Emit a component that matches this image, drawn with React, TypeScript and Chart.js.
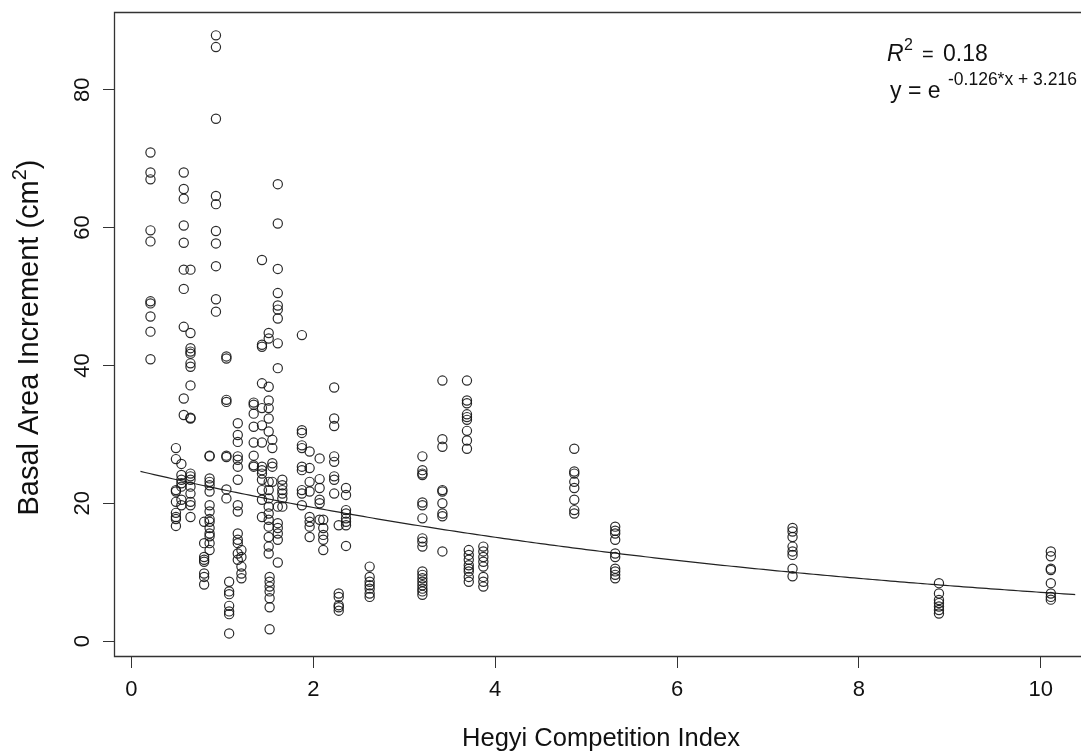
import { useEffect, useRef } from 'react';
import { Chart, registerables } from 'chart.js';

Chart.register(...registerables);

// Hegyi competition index of each tree group (x positions of the point columns)
const hegyiGroups = [
  0.21, 0.49, 0.55, 0.576, 0.65, 0.8, 0.86, 0.93, 1.045, 1.075,
  1.17, 1.21, 1.345, 1.436, 1.51, 1.52, 1.55, 1.61, 1.66, 1.875,
  1.96, 2.07, 2.11, 2.23, 2.28, 2.36, 2.62, 3.2, 3.42, 3.69,
  3.71, 3.87, 4.87, 5.32, 7.27, 8.88, 10.11,
];

// Basal area increment (cm²) of the trees in each group
const baiGroups = [
  [70.9, 68.0, 67.0, 59.6, 58.0, 49.3, 49.0, 47.1, 44.9, 40.9],
  [28.0, 26.4, 21.9, 21.7, 20.2, 18.6, 18.0, 17.7, 16.7],
  [25.7, 24.1, 23.4, 22.9, 22.4, 20.5, 19.7],
  [68.0, 65.6, 64.2, 60.3, 57.8, 53.9, 51.1, 45.6, 35.2, 32.8],
  [53.9, 44.7, 42.5, 42.0, 41.7, 40.3, 39.8, 37.1, 32.4, 32.3, 24.3, 23.9, 23.4, 22.4, 21.4, 20.2, 19.7, 18.0],
  [17.3, 14.2, 12.2, 11.8, 11.5, 9.8, 9.3, 8.2],
  [26.9, 26.8, 23.6, 23.1, 22.6, 21.7, 19.7, 18.8, 17.7, 17.3, 16.4, 15.6, 15.2, 14.2, 13.2],
  [87.9, 86.2, 75.8, 64.6, 63.4, 59.5, 57.7, 54.4, 49.6, 47.8],
  [41.3, 41.0, 35.0, 34.7, 26.9, 26.7, 22.0, 20.7],
  [8.6, 7.2, 6.8, 5.1, 4.3, 3.9, 1.1],
  [31.6, 29.9, 28.9, 26.8, 26.3, 25.3, 23.4, 19.7, 18.8, 15.6, 14.7, 14.2, 12.7, 11.8],
  [13.2, 12.2, 10.8, 9.8, 9.1],
  [34.6, 34.3, 33.0, 31.1, 28.8, 26.9, 25.5, 25.3],
  [55.3, 43.0, 42.7, 37.4, 33.8, 31.3, 28.8, 25.3, 24.8, 24.3, 23.4, 21.9, 20.5, 18.0],
  [44.7, 43.9, 36.9, 34.9, 33.8, 32.3, 30.4, 23.1, 21.9, 20.7, 19.5, 18.5, 17.6, 16.6, 15.1, 13.7, 12.7],
  [9.3, 8.6, 7.9, 7.2, 6.2, 4.9, 1.7],
  [29.2, 28.0, 25.8, 25.3, 23.1],
  [66.3, 60.6, 54.0, 50.5, 48.7, 48.1, 46.8, 43.2, 39.6, 19.5, 17.1, 16.4, 15.6, 14.7, 11.4],
  [23.4, 22.6, 21.9, 21.4, 20.7, 19.5],
  [44.4, 30.6, 30.2, 28.4, 28.0, 25.3, 24.8, 21.9, 21.4, 19.7],
  [27.5, 25.1, 23.1, 21.7, 18.0, 17.3, 16.6, 15.1],
  [26.5, 23.5, 22.2, 20.5, 20.0, 17.6],
  [17.6, 16.4, 15.4, 14.7, 13.2],
  [36.8, 32.3, 31.2, 26.8, 26.0, 23.9, 23.4, 21.4],
  [16.8, 6.9, 6.4, 5.2, 4.9, 4.4],
  [22.2, 21.2, 19.0, 18.5, 17.8, 17.3, 16.8, 13.8],
  [10.8, 9.3, 8.6, 8.1, 7.6, 6.9, 6.4],
  [26.8, 24.8, 24.3, 24.1, 20.1, 19.7, 17.8, 14.9, 14.4, 13.7, 10.1, 9.6, 9.1, 8.6, 8.1, 7.6, 7.2, 6.7],
  [37.8, 29.3, 28.2, 21.9, 21.7, 20.0, 18.5, 18.1, 13.0],
  [37.8, 34.9, 34.5, 32.9, 32.5, 32.1, 30.5, 29.1, 27.9],
  [13.2, 12.5, 11.8, 11.0, 10.5, 10.1, 9.3, 8.6],
  [13.7, 13.0, 12.2, 11.5, 10.8, 9.3, 8.6, 7.9],
  [27.9, 24.6, 24.3, 23.1, 22.2, 20.5, 19.0, 18.5],
  [16.6, 16.0, 15.6, 14.7, 12.7, 12.2, 10.5, 10.1, 9.6, 9.1],
  [16.4, 15.9, 15.1, 13.7, 13.0, 12.5, 10.5, 9.4],
  [8.4, 6.9, 5.95, 5.5, 5.0, 4.5, 4.0],
  [13.0, 12.3, 10.5, 10.3, 8.4, 6.9, 6.4, 6.0],
];

const xTickValues = [0, 2, 4, 6, 8, 10];
const yTickValues = [0, 20, 40, 60, 80];

// Fitted model shown on the chart: y = exp(slope * x + intercept)
const fitSlope = -0.126;
const fitIntercept = 3.216;
const fitStart = 0.1;
const fitEnd = 10.45;
const fitStep = 0.05;

const xTitle = 'Hegyi Competition Index';
const yTitleMain = 'Basal Area Increment (cm';
const yTitleSup = '2';
const yTitleEnd = ')';
const r2Label = '0.18';
const eqExponent = '-0.126*x + 3.216';

const FONT = '"Liberation Sans", Arial, Helvetica, sans-serif';

export default function App() {
  const ref = useRef<HTMLCanvasElement>(null);

  useEffect(() => {
    document.body.style.margin = '0';
    const points: { x: number; y: number }[] = [];
    hegyiGroups.forEach((x, i) => baiGroups[i].forEach((y) => points.push({ x, y })));
    const curve: { x: number; y: number }[] = [];
    for (let x = fitStart; x <= fitEnd + 1e-9; x += fitStep) {
      curve.push({ x, y: Math.exp(fitSlope * x + fitIntercept) });
    }

    const annot = {
      id: 'annot',
      afterDraw(chart: any) {
        const ctx = chart.ctx as CanvasRenderingContext2D;
        const ca = chart.chartArea;
        const ys = chart.scales.y;
        ctx.save();
        // frame (right side lies outside the picture)
        ctx.strokeStyle = '#333';
        ctx.lineWidth = 1.3;
        ctx.beginPath();
        ctx.moveTo(chart.width, ca.top + 0.5);
        ctx.lineTo(ca.left + 0.5, ca.top + 0.5);
        ctx.lineTo(ca.left + 0.5, ca.bottom - 0.5);
        ctx.lineTo(chart.width, ca.bottom - 0.5);
        ctx.stroke();

        ctx.fillStyle = '#111';
        // y tick labels (rotated)
        ctx.font = `22px ${FONT}`;
        ctx.textAlign = 'center';
        ctx.textBaseline = 'alphabetic';
        yTickValues.forEach((v) => {
          const py = ys.getPixelForValue(v);
          ctx.save();
          ctx.translate(89, py);
          ctx.rotate(-Math.PI / 2);
          ctx.fillText(String(v), 0, 0);
          ctx.restore();
        });

        // y title
        ctx.save();
        const cy = (ca.top + ca.bottom) / 2 + 3;
        ctx.translate(38, cy);
        ctx.rotate(-Math.PI / 2);
        ctx.textAlign = 'left';
        ctx.font = `29px ${FONT}`;
        const w1 = ctx.measureText(yTitleMain).width;
        const w3 = ctx.measureText(yTitleEnd).width;
        ctx.font = `20px ${FONT}`;
        const w2 = ctx.measureText(yTitleSup).width;
        let sx = -(w1 + w2 + w3) / 2;
        ctx.font = `29px ${FONT}`;
        ctx.fillText(yTitleMain, sx, 0);
        sx += w1;
        ctx.font = `20px ${FONT}`;
        ctx.fillText(yTitleSup, sx, -12);
        sx += w2;
        ctx.font = `29px ${FONT}`;
        ctx.fillText(yTitleEnd, sx, 0);
        ctx.restore();

        // x title
        ctx.font = `25.5px ${FONT}`;
        ctx.textAlign = 'center';
        ctx.fillText(xTitle, 601, 746);

        // R^2 and equation
        ctx.textAlign = 'left';
        ctx.font = `italic 23px ${FONT}`;
        ctx.fillText('R', 887, 61);
        ctx.font = `16px ${FONT}`;
        ctx.fillText('2', 904, 50);
        ctx.font = `20px ${FONT}`;
        ctx.fillText('=', 922, 61);
        ctx.font = `23px ${FONT}`;
        ctx.fillText(r2Label, 943, 61);

        ctx.font = `23px ${FONT}`;
        ctx.fillText('y = e', 890, 98);
        ctx.font = `17.5px ${FONT}`;
        ctx.fillText(eqExponent, 948, 85);
        ctx.restore();
      },
    };

    const chart = new Chart(ref.current as HTMLCanvasElement, {
      type: 'scatter',
      data: {
        datasets: [
          {
            data: points,
            showLine: false,
            pointRadius: 4.6,
            pointBorderWidth: 1.2,
            pointBorderColor: 'rgba(20,20,20,0.9)',
            pointBackgroundColor: 'rgba(0,0,0,0)',
          },
          {
            data: curve,
            showLine: true,
            pointRadius: 0,
            borderColor: '#222',
            borderWidth: 1.2,
            fill: false,
            tension: 0,
          },
        ],
      },
      options: {
        responsive: false,
        animation: false,
        devicePixelRatio: 1,
        events: [],
        layout: { padding: { top: 12, right: 0, left: 0, bottom: 0 } },
        plugins: { legend: { display: false }, tooltip: { enabled: false } },
        scales: {
          x: {
            type: 'linear',
            min: -0.191,
            max: 10.378,
            afterBuildTicks: (s: any) => {
              s.ticks = xTickValues.map((v) => ({ value: v }));
            },
            afterFit: (s: any) => {
              s.height = 95;
            },
            grid: { drawOnChartArea: false, drawTicks: true, tickLength: 11, color: '#333', lineWidth: 1 },
            border: { display: false },
            ticks: {
              font: { family: FONT, size: 22, lineHeight: 1.2 },
              color: '#111',
              padding: 9,
              maxRotation: 0,
              minRotation: 0,
              autoSkip: false,
            },
          },
          y: {
            type: 'linear',
            min: -2.32,
            max: 91.29,
            afterBuildTicks: (s: any) => {
              s.ticks = yTickValues.map((v) => ({ value: v }));
            },
            afterFit: (s: any) => {
              s.width = 114;
            },
            grid: { drawOnChartArea: false, drawTicks: true, tickLength: 11, color: '#333', lineWidth: 1 },
            border: { display: false },
            ticks: { display: false },
          },
        },
      },
      plugins: [annot],
    } as any);
    return () => chart.destroy();
  }, []);

  return (
    <div style={{ position: 'absolute', left: 0, top: 0 }}>
      <canvas ref={ref} width={1081} height={752} style={{ display: 'block', width: 1081, height: 752 }} />
    </div>
  );
}
